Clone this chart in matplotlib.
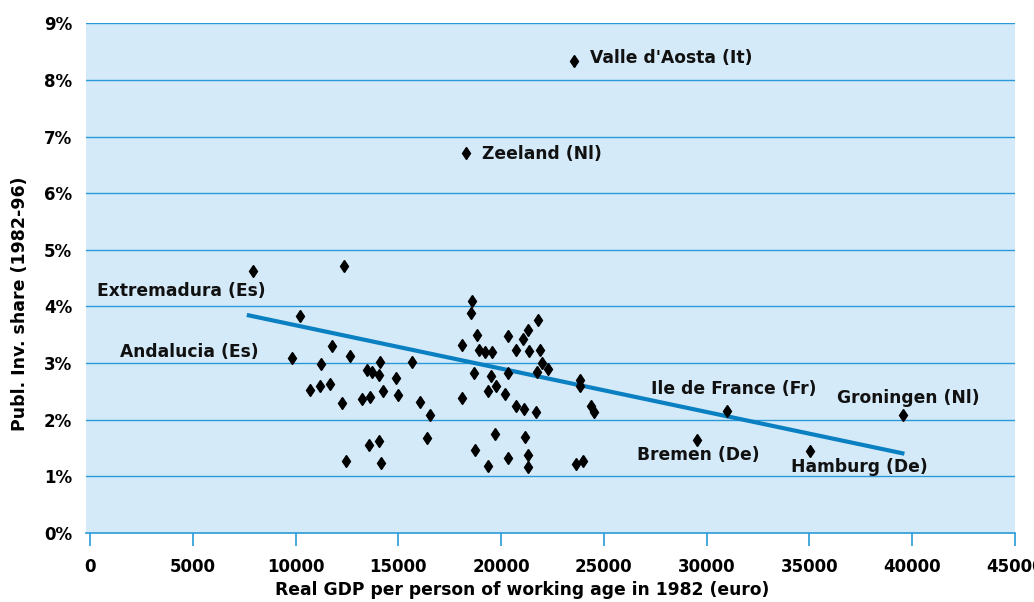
import matplotlib
matplotlib.use("Agg")
import matplotlib.pyplot as plt
import numpy as np

# GDP per person of working age 1982 (euro) and public investment share (%)
gdp = [23540, 18270, 7910, 12360, 10240, 9850, 11770, 11240, 12660, 14110,
       15650, 13480, 13700, 14060, 14890, 10720, 11190, 11690, 14270, 13640,
       13210, 14990, 12240, 16030, 16540, 16410, 14060, 13560, 12450, 14140,
       18570, 18520, 18090, 18820, 18930, 19210, 19580, 20330, 21080, 21320,
       21790, 20720, 21350, 21870, 21970, 22270, 21770, 18700, 19500, 20330,
       23850, 23820, 19760, 19340, 20180, 18110, 20740, 21110, 21720, 24390,
       24500, 19680, 21150, 18720, 20350, 21320, 21290, 19340, 23660, 24000,
       31010, 39540, 29550, 35020]
share = [8.33, 6.71, 4.63, 4.71, 3.83, 3.09, 3.30, 2.98, 3.12, 3.02,
         3.02, 2.88, 2.84, 2.79, 2.73, 2.52, 2.59, 2.63, 2.51, 2.41,
         2.36, 2.43, 2.29, 2.32, 2.09, 1.67, 1.63, 1.55, 1.28, 1.24,
         4.10, 3.88, 3.32, 3.49, 3.24, 3.20, 3.20, 3.47, 3.42, 3.58,
         3.76, 3.23, 3.22, 3.24, 3.01, 2.89, 2.85, 2.82, 2.78, 2.83,
         2.71, 2.59, 2.59, 2.50, 2.46, 2.38, 2.25, 2.19, 2.14, 2.24,
         2.14, 1.74, 1.69, 1.46, 1.33, 1.38, 1.17, 1.19, 1.21, 1.27,
         2.15, 2.09, 1.65, 1.44]

# fitted trend line end points
trend_x = [7630, 39620]
trend_y = [3.85, 1.40]

labels = ["Valle d'Aosta (It)", "Zeeland (Nl)", "Extremadura (Es)", "Andalucia (Es)",
          "Ile de France (Fr)", "Groningen (Nl)", "Bremen (De)", "Hamburg (De)"]
label_x = [24300, 19080, 360, 1460, 27280, 36340, 26600, 34100]
label_y = [8.38, 6.69, 4.28, 3.19, 2.55, 2.38, 1.38, 1.17]

xticks = [0, 5000, 10000, 15000, 20000, 25000, 30000, 35000, 40000, 45000]
yticks = [0, 1, 2, 3, 4, 5, 6, 7, 8, 9]

plt.rcParams['font.family'] = ['DejaVu Sans']

grid_col = "#2a9ad6"
fig = plt.figure(figsize=(10.34, 6.02), dpi=100)
ax = fig.add_axes([86/1034, 1 - 533/602, (1015-86)/1034, (533-23.3)/602])
ax.set_facecolor("#d4eaf9")

ax.set_xlim(-195, 45000)
ax.set_ylim(0, 9)
for s in ["top", "right", "left"]:
    ax.spines[s].set_visible(False)
ax.spines["bottom"].set_color(grid_col)
ax.spines["bottom"].set_linewidth(1.2)

for v in yticks[1:]:
    ax.axhline(v, color=grid_col, lw=1.0, zorder=1)

ax.plot(trend_x, trend_y, color="#0a80c2", lw=3, zorder=2, solid_capstyle="butt")
ax.plot(gdp, share, linestyle="none", marker="d", ms=6, color="black", zorder=3)

for t, lx, ly in zip(labels, label_x, label_y):
    ax.text(lx, ly, t, fontsize=12.3, fontweight="bold", va="center", ha="left", color="#111111")

ax.set_xticks(xticks)
ax.set_xticklabels([str(v) for v in xticks], fontsize=12, fontweight="bold")
ax.set_yticks(yticks)
ax.set_yticklabels([f"{v}%" for v in yticks], fontsize=12, fontweight="bold")
ax.tick_params(axis="x", length=9, width=1.2, color=grid_col, pad=9)
ax.tick_params(axis="y", length=0, pad=10)

ax.set_xlabel("Real GDP per person of working age in 1982 (euro)", fontsize=12.3,
              fontweight="bold")
ax.xaxis.set_label_coords(0.469, -0.095)
ax.set_ylabel("Publ. Inv. share (1982-96)", fontsize=12.5, fontweight="bold")
ax.yaxis.set_label_coords(-0.061, 0.45)

fig.savefig("out.png", dpi=100)
